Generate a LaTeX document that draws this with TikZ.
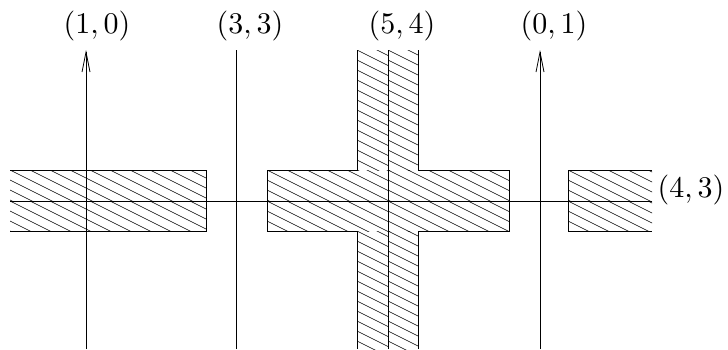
\documentclass[tikz,border=0pt]{standalone}
\usetikzlibrary{arrows.meta}
\tikzset{
  axis/.style={line width=0.8pt},
  arr/.style={line width=0.8pt,-{Straight Barb[length=20pt,width=8pt,line width=0.8pt]}},
  edge/.style={line width=0.8pt},
  hatchline/.style={line width=0.6pt},
  lab/.style={inner sep=0pt}
}
\newcommand\bigtxt[1]{\scalebox{3}{#1}}
\newcommand\myhatch[4]{%
  \begin{scope}
    \clip (#1,#2) rectangle (#3,#4);
    \foreach \k in {-16,...,32} {
      \draw[hatchline] (#1,{#2+10*(\k)}) -- ++(300,150);
    }
  \end{scope}}
\begin{document}
\begin{tikzpicture}[x=1pt,y=-1pt]
  \useasboundingbox (0,0) rectangle (728,349);
  % hatching
  \myhatch{10}{170}{206}{201}
  \myhatch{10}{201}{206}{231}
  \myhatch{357}{50}{388}{170}
  \myhatch{388}{50}{418}{170}
  \myhatch{267}{170}{388}{201}
  \myhatch{388}{170}{509}{201}
  \myhatch{267}{201}{388}{231}
  \myhatch{388}{201}{509}{231}
  \myhatch{357}{231}{388}{349}
  \myhatch{388}{231}{418}{349}
  \myhatch{568}{170}{652}{201}
  \myhatch{568}{201}{652}{231}
  % outlines
  \draw[edge] (10,170) -- (206,170) -- (206,231) -- (10,231);
  \draw[edge] (357,50) -- (357,170) -- (267,170) -- (267,231) -- (357,231) -- (357,349);
  \draw[edge] (418,50) -- (418,170) -- (509,170) -- (509,231) -- (418,231) -- (418,349);
  \draw[edge] (652,170) -- (568,170) -- (568,231) -- (652,231);
  % coordinates
  \coordinate (hL) at (10,201);
  \coordinate (hR) at (652,201);
  \coordinate (a1b) at (86,349);
  \coordinate (a1t) at (86,50);
  \coordinate (a2b) at (236,349);
  \coordinate (a2t) at (236,50);
  \coordinate (a3b) at (388,349);
  \coordinate (a3t) at (388,50);
  \coordinate (a4b) at (540,349);
  \coordinate (a4t) at (540,50);
  % lines
  \draw[axis] (hL) -- (hR);
  \draw[arr] (a1b) -- (a1t);
  \draw[axis] (a2b) -- (a2t);
  \draw[axis] (a3b) -- (a3t);
  \draw[arr] (a4b) -- (a4t);
  % labels
  \node[lab] (l1) at (97,26) {\bigtxt{$(1,0)$}};
  \node[lab] (l2) at (250,26) {\bigtxt{$(3,3)$}};
  \node[lab] (l3) at (402,26) {\bigtxt{$(5,4)$}};
  \node[lab] (l4) at (554,26) {\bigtxt{$(0,1)$}};
  \node[lab] (l5) at (691,190) {\bigtxt{$(4,3)$}};
\end{tikzpicture}
\end{document}
